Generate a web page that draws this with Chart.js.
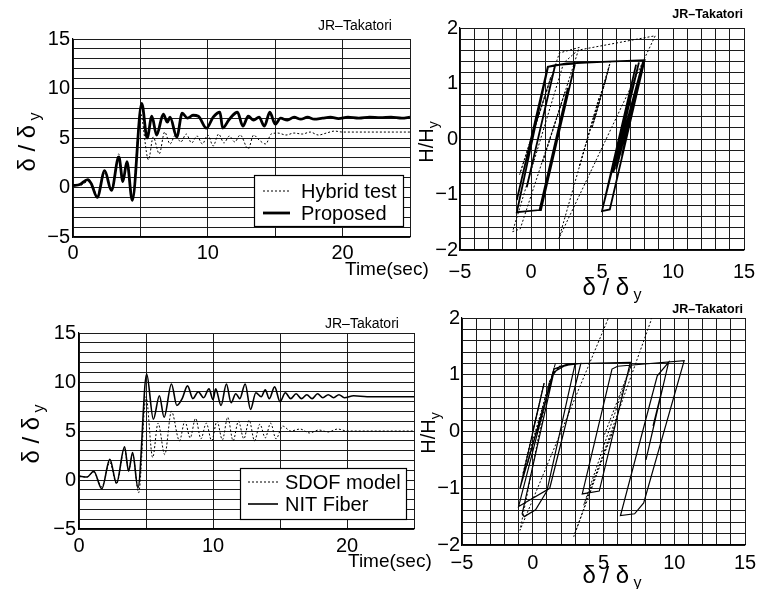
<!DOCTYPE html>
<html>
<head>
<meta charset="utf-8">
<script src="https://cdn.jsdelivr.net/npm/chart.js@4.4.0/dist/chart.umd.min.js"></script>
<style>
  html, body { margin: 0; padding: 0; background: #fff; }
  #page { position: relative; width: 768px; height: 589px; overflow: hidden; background: #fff; }
  canvas { position: absolute; }
</style>
</head>
<body>
<div id="page">
  <canvas id="histTop" width="440" height="295" style="left:0;top:0"></canvas>
  <canvas id="loopTop" width="384" height="305" style="left:384px;top:0"></canvas>
  <canvas id="histBottom" width="440" height="294" style="left:0;top:295px"></canvas>
  <canvas id="loopBottom" width="384" height="294" style="left:384px;top:295px"></canvas>
</div>
<script>
// ---- response histories, upper row ----
const hybridTime = [0, 0.5, 1.1, 1.4, 1.8, 2.35, 2.85, 3.4, 3.7, 4.0, 4.4, 5.0, 5.6, 5.95, 6.4, 6.8, 7.2, 7.6, 8.0, 8.4, 8.8, 9.2, 9.6, 10.0, 10.4, 10.8, 11.2, 11.6, 12.0, 12.4, 13.0, 13.4, 13.8, 14.3, 14.7, 15.2, 15.8, 16.4, 17.0, 17.6, 18.2, 18.8, 19.4, 20, 21, 22, 23, 24, 25];
const hybridDisp = [0.3, 0.2, 0.6, 0.3, -0.8, 1.4, -0.1, 3.4, 0.8, 2.4, -1.0, 7.5, 2.8, 5.1, 3.4, 5.6, 4.4, 5.3, 4.6, 5.4, 4.5, 5.2, 4.4, 5.3, 4.2, 5.4, 4.5, 5.2, 4.6, 5.3, 3.9, 5.3, 4.8, 4.4, 5.4, 5.5, 5.3, 5.5, 5.4, 5.6, 5.3, 5.5, 5.7, 5.6, 5.6, 5.6, 5.6, 5.6, 5.6];
const proposedTime = [0, 0.5, 1.1, 1.35, 1.8, 2.35, 2.85, 3.4, 3.7, 4.0, 4.4, 5.1, 5.5, 5.85, 6.2, 6.7, 7.0, 7.2, 7.7, 8.1, 8.5, 8.9, 9.3, 9.9, 10.4, 10.9, 11.1, 11.6, 12.2, 12.6, 13.0, 13.4, 13.8, 14.2, 14.6, 15.0, 15.4, 15.9, 16.4, 16.9, 17.4, 17.9, 18.5, 19.1, 19.7, 20.4, 21.2, 22.0, 22.8, 23.6, 24.4, 25];
const proposedDisp = [0.2, 0.3, 0.8, 0.4, -1.0, 1.7, -0.3, 3.1, 0.6, 2.6, -1.3, 8.5, 5.0, 7.2, 5.3, 7.4, 6.6, 7.1, 5.1, 7.5, 7.0, 7.3, 7.2, 6.0, 7.1, 7.6, 6.0, 6.9, 7.6, 6.2, 7.2, 6.8, 7.1, 6.2, 7.6, 6.4, 7.0, 6.8, 7.1, 6.9, 7.1, 6.9, 7.0, 7.1, 6.95, 7.1, 7.0, 7.1, 7.05, 7.1, 7.0, 7.1];

// ---- hysteresis loops, upper row ----
const hybridLoopDisp  = [0, 0.6, -0.8, 1.4, -0.1, 2.0, 3.4, 0.8, 2.4, -0.76, -1.3, 2.3, 3.3, 8.75, 1.97, 4.8, 3.4, 5.6, 4.4, 5.3, 4.3, 5.5, 5.2];
const hybridLoopForce = [0, 0.48, -0.64, 1.12, -0.08, 1.55, 1.65, -0.43, 0.85, -1.62, -1.67, 1.37, 1.6, 1.86, -1.79, 0.75, -0.5, 1.4, 0.3, 1.1, 0.2, 1.3, 1.0];
const proposedLoopDisp  = [0, 0.7, -1.0, 1.18, 1.7, -0.3, 1.7, 3.1, 0.7, 0.6, 2.6, 0.6, -1.0, 1.2, 2.5, 5.0, 8.0, 5.55, 5.0, 7.2, 5.3, 7.4, 5.1, 7.6, 5.8, 7.9, 6.0, 7.6, 6.4, 7.5, 6.6, 7.3, 6.9, 7.1];
const proposedLoopForce = [0, 0.77, -1.1, 1.3, 1.33, -0.87, 1.33, 1.36, -1.28, -1.28, 0.92, -1.28, -1.32, 1.3, 1.36, 1.39, 1.42, -1.27, -1.3, 1.12, -0.97, 1.34, -1.19, 1.38, -0.6, 1.4, -0.55, 1.1, -0.3, 0.9, -0.1, 0.7, 0.3, 0.5];

// ---- response histories, lower row ----
const sdofTime = [0, 0.6, 1.1, 1.7, 2.3, 2.8, 3.4, 3.7, 4.0, 4.45, 5.0, 5.5, 5.9, 6.4, 6.9, 7.5, 7.9, 8.3, 8.7, 9.1, 9.5, 9.9, 10.3, 10.7, 11.1, 11.5, 11.9, 12.3, 12.7, 13.1, 13.5, 13.9, 14.3, 14.7, 15.2, 15.8, 16.5, 17.2, 17.9, 18.6, 19.3, 20, 21, 22, 23, 24, 25];
const sdofDisp = [0.4, 0.3, 0.8, -0.7, 1.8, -0.4, 3.2, 1.0, 2.6, -1.3, 8.5, 2.3, 5.8, 2.6, 7.0, 4.0, 6.0, 4.3, 6.3, 4.2, 5.8, 4.0, 6.0, 4.1, 6.4, 4.0, 6.0, 4.2, 6.1, 4.0, 5.7, 4.3, 5.8, 4.2, 5.5, 5.0, 5.2, 4.8, 5.1, 4.9, 5.2, 5.0, 5.0, 5.0, 5.0, 5.0, 5.0];
const fiberTime = [0, 0.6, 1.1, 1.7, 2.3, 2.8, 3.4, 3.7, 4.0, 4.4, 5.05, 5.55, 6.0, 6.35, 6.9, 7.3, 7.7, 8.1, 8.5, 8.9, 9.3, 9.7, 10.0, 10.2, 10.6, 11.0, 11.35, 11.7, 12.0, 12.4, 12.8, 13.2, 13.6, 13.9, 14.2, 14.6, 15.0, 15.4, 15.8, 16.2, 16.6, 17.0, 17.4, 17.8, 18.2, 18.6, 19.0, 19.4, 19.8, 20.5, 21.5, 22.5, 23.5, 25];
const fiberDisp = [0.4, 0.3, 0.9, -0.9, 2.1, -0.3, 3.4, 0.9, 2.8, -0.8, 10.8, 6.2, 8.6, 6.4, 9.8, 7.6, 8.3, 9.6, 8.3, 9.0, 8.4, 9.3, 8.2, 9.3, 7.6, 9.8, 7.9, 8.8, 8.3, 9.8, 7.2, 8.9, 8.5, 9.2, 8.3, 9.5, 8.0, 8.9, 8.3, 8.8, 8.3, 8.7, 8.3, 8.8, 8.4, 8.7, 8.4, 8.7, 8.4, 8.6, 8.5, 8.5, 8.5, 8.5];

// ---- hysteresis loops, lower row ----
const sdofLoopDisp  = [0, 0.8, -0.7, 1.6, -0.4, 1.2, -0.9, 5.6, 8.6, 8.35, 2.9, 5.8, 3.6, 7.0, 5.0];
const sdofLoopForce = [0, 0.85, -0.75, 1.2, -0.6, 0.9, -1.74, 2.15, 2.3, 1.95, -1.85, 0.1, -1.3, 1.2, -0.1];
const fiberLoopDisp  = [0, 0.8, -0.9, 1.5, 2.2, 3.0, 1.0, 0.2, -0.6, -0.75, 1.45, 1.9, 3.4, 1.2, -1.0, 1.5, 2.5, 6.9, 4.7, 3.5, 5.6, 6.0, 10.7, 7.84, 7.2, 6.2, 8.8, 9.6, 8.0, 9.2, 8.5];
const fiberLoopForce = [0, 0.85, -1.0, 1.05, 1.15, 1.2, -1.05, -1.38, -1.5, -1.45, 1.0, 1.15, 1.2, -1.0, -1.32, 1.1, 1.19, 1.22, -1.05, -1.1, 1.1, 1.15, 1.25, -1.26, -1.45, -1.48, 0.98, 1.22, -0.5, 0.8, 0.1];

// axis ranges and labelled tick values
const timeRange = [0, 25];
const dispRange = [-5, 15];
const forceRange = [-2, 2];
const timeLabels = [0, 10, 20];
const dispLabels = [-5, 0, 5, 10, 15];
const forceLabels = [-2, -1, 0, 1, 2];

const FONT = '"Liberation Sans", Arial, Helvetica, sans-serif';
const INK = '#000';
const GRID = '#1c1c1c';

function toPoints(xs, ys) {
  return xs.map((x, i) => ({ x: x, y: ys[i] }));
}

function tickText(list) {
  return function (value) {
    const hit = list.find(v => Math.abs(v - value) < 1e-6);
    if (hit === undefined) return '';
    return hit < 0 ? '\u2212' + Math.abs(hit) : String(hit);
  };
}

// writes text made of pieces, e.g. a letter followed by a subscript
function drawPieces(ctx, pieces, x, y, align) {
  let total = 0;
  pieces.forEach(p => {
    ctx.font = (p.weight || 'normal') + ' ' + p.size + 'px ' + FONT;
    p.w = ctx.measureText(p.text).width;
    total += p.w;
  });
  let cx = align === 'center' ? x - total / 2 : align === 'right' ? x - total : x;
  pieces.forEach(p => {
    ctx.font = (p.weight || 'normal') + ' ' + p.size + 'px ' + FONT;
    ctx.fillText(p.text, cx, y + (p.dy || 0));
    cx += p.w;
  });
}

// titles, axis captions and the boxed legend
const captions = {
  id: 'captions',
  afterDraw(chart, args, opts) {
    const ctx = chart.ctx;
    ctx.save();
    ctx.fillStyle = INK;
    ctx.textBaseline = 'alphabetic';
    ctx.textAlign = 'left';
    (opts.texts || []).forEach(t => {
      if (t.rotate) {
        ctx.save();
        ctx.translate(t.x, t.y);
        ctx.rotate(-Math.PI / 2);
        drawPieces(ctx, t.pieces, 0, 0, 'center');
        ctx.restore();
      } else {
        drawPieces(ctx, t.pieces, t.x, t.y, t.align || 'left');
      }
    });
    const lg = opts.legend;
    if (lg) {
      const area = chart.chartArea;
      const left = area.right - lg.right - lg.width;
      const top = area.bottom - lg.bottom - lg.height;
      ctx.fillStyle = '#fff';
      ctx.fillRect(left, top, lg.width, lg.height);
      ctx.strokeStyle = INK;
      ctx.lineWidth = 1.2;
      ctx.setLineDash([]);
      ctx.strokeRect(left + 0.5, top + 0.5, lg.width, lg.height);
      chart.data.datasets.forEach((ds, i) => {
        const rowY = top + lg.rows[i];
        ctx.strokeStyle = ds.borderColor;
        ctx.lineWidth = ds.borderWidth;
        ctx.setLineDash(ds.borderDash || []);
        ctx.beginPath();
        ctx.moveTo(left + lg.sample[0], rowY);
        ctx.lineTo(left + lg.sample[1], rowY);
        ctx.stroke();
        ctx.setLineDash([]);
        ctx.fillStyle = INK;
        ctx.font = lg.size + 'px ' + FONT;
        ctx.textBaseline = 'middle';
        ctx.fillText(ds.label, left + lg.textX, rowY + 1);
      });
    }
    ctx.restore();
  }
};

function buildChart(id, cfg) {
  const canvas = document.getElementById(id);
  const W = canvas.width, H = canvas.height;
  const box = cfg.box;
  return new Chart(canvas, {
    type: 'scatter',
    data: { datasets: cfg.datasets },
    options: {
      responsive: false,
      animation: false,
      events: [],
      layout: { padding: { left: 0, top: box.top, right: W - box.right, bottom: 0 } },
      scales: {
        x: {
          type: 'linear',
          min: cfg.xRange[0], max: cfg.xRange[1],
          afterFit(scale) { scale.height = H - box.bottom; },
          grid: { color: GRID, lineWidth: 1, drawTicks: false },
          border: { color: INK, width: 1.2 },
          ticks: {
            stepSize: cfg.xStep, autoSkip: false, maxRotation: 0, padding: cfg.xPad,
            color: INK, font: { family: FONT, size: cfg.tickSize },
            callback: tickText(cfg.xLabels)
          }
        },
        y: {
          type: 'linear',
          min: cfg.yRange[0], max: cfg.yRange[1],
          afterFit(scale) { scale.width = box.left; },
          grid: { color: GRID, lineWidth: 1, drawTicks: false },
          border: { color: INK, width: 1.2 },
          ticks: {
            stepSize: cfg.yStep, autoSkip: false, padding: cfg.yPad,
            color: INK, font: { family: FONT, size: cfg.tickSize },
            callback: tickText(cfg.yLabels)
          }
        }
      },
      plugins: {
        legend: { display: false },
        tooltip: { enabled: false },
        captions: { texts: cfg.texts, legend: cfg.legend }
      }
    },
    plugins: [captions]
  });
}

function lineSet(label, xs, ys, width, dash, smooth) {
  return {
    label: label,
    data: toPoints(xs, ys),
    showLine: true,
    pointRadius: 0,
    borderColor: INK,
    borderWidth: width,
    borderDash: dash,
    cubicInterpolationMode: smooth ? 'monotone' : 'default',
    tension: 0,
    fill: false
  };
}

const ratioLabel = [
  { text: '\u03b4 / \u03b4', size: 24 },
  { text: ' y', size: 16, dy: 5 }
];
const forceLabel = [
  { text: 'H/H', size: 20 },
  { text: 'y', size: 14, dy: 5 }
];

buildChart('histTop', {
  box: { left: 73, right: 410, top: 39, bottom: 237 },
  xRange: timeRange, yRange: dispRange, xStep: 5, yStep: 1,
  xLabels: timeLabels, yLabels: dispLabels, tickSize: 20, xPad: 4, yPad: 3,
  datasets: [
    lineSet('Hybrid test', hybridTime, hybridDisp, 1, [2, 2], true),
    lineSet('Proposed', proposedTime, proposedDisp, 2.8, [], true)
  ],
  texts: [
    { pieces: [{ text: 'JR\u2013Takatori', size: 14 }], x: 318, y: 30 },
    { pieces: [{ text: 'Time(sec)', size: 19 }], x: 345, y: 275 },
    { pieces: ratioLabel, x: 35, y: 142, rotate: true }
  ],
  legend: { right: 7, bottom: 11, width: 149, height: 51, rows: [16, 38], sample: [9, 36], textX: 47, size: 20 }
});

buildChart('loopTop', {
  box: { left: 76, right: 360, top: 28, bottom: 250 },
  xRange: dispRange, yRange: forceRange, xStep: 1, yStep: 0.2,
  xLabels: dispLabels, yLabels: forceLabels, tickSize: 20, xPad: 10, yPad: 2,
  datasets: [
    lineSet('Hybrid test', hybridLoopDisp, hybridLoopForce, 1, [2, 2], false),
    lineSet('Proposed', proposedLoopDisp, proposedLoopForce, 1.8, [], false)
  ],
  texts: [
    { pieces: [{ text: 'JR\u2013Takatori', size: 12.5, weight: 'bold' }], x: 359, y: 18, align: 'right' },
    { pieces: forceLabel, x: 433 - 384, y: 142, rotate: true },
    { pieces: ratioLabel, x: 612 - 384, y: 295, align: 'center' }
  ]
});

buildChart('histBottom', {
  box: { left: 79, right: 414, top: 38, bottom: 234 },
  xRange: timeRange, yRange: dispRange, xStep: 5, yStep: 1,
  xLabels: timeLabels, yLabels: dispLabels, tickSize: 20, xPad: 5, yPad: 3,
  datasets: [
    lineSet('SDOF model', sdofTime, sdofDisp, 1, [2, 2], true),
    lineSet('NIT Fiber', fiberTime, fiberDisp, 1.6, [], true)
  ],
  texts: [
    { pieces: [{ text: 'JR\u2013Takatori', size: 14 }], x: 325, y: 33 },
    { pieces: [{ text: 'Time(sec)', size: 19 }], x: 348, y: 272 },
    { pieces: ratioLabel, x: 39, y: 139, rotate: true }
  ],
  legend: { right: 8, bottom: 10, width: 166, height: 51, rows: [14, 36], sample: [8, 38], textX: 45, size: 20 }
});

buildChart('loopBottom', {
  box: { left: 78, right: 361, top: 23, bottom: 250 },
  xRange: dispRange, yRange: forceRange, xStep: 1, yStep: 0.2,
  xLabels: dispLabels, yLabels: forceLabels, tickSize: 20, xPad: 6, yPad: 2,
  datasets: [
    lineSet('SDOF model', sdofLoopDisp, sdofLoopForce, 1, [2, 2], false),
    lineSet('NIT Fiber', fiberLoopDisp, fiberLoopForce, 1.2, [], false)
  ],
  texts: [
    { pieces: [{ text: 'JR\u2013Takatori', size: 12.5, weight: 'bold' }], x: 359, y: 18, align: 'right' },
    { pieces: forceLabel, x: 435 - 384, y: 138, rotate: true },
    { pieces: ratioLabel, x: 612 - 384, y: 288, align: 'center' }
  ]
});
</script>
</body>
</html>
